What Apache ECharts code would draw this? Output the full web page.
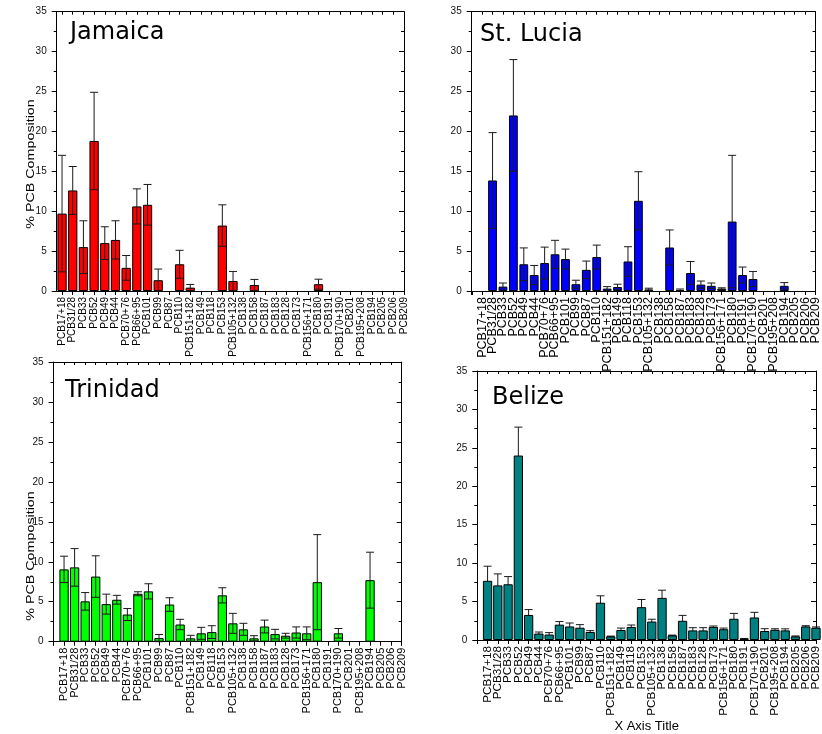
<!DOCTYPE html>
<html><head><meta charset="utf-8">
<script src="https://cdn.jsdelivr.net/npm/echarts@6/dist/echarts.min.js"></script>
<style>html,body{margin:0;padding:0;background:#fff}#c{width:822px;height:734px}</style>
</head><body><div id="c"></div>
<script>
const categories = ['PCB17+18','PCB31/28','PCB33','PCB52','PCB49','PCB44','PCB70+76','PCB66+95','PCB101','PCB99','PCB87','PCB110','PCB151+182','PCB149','PCB118','PCB153','PCB105+132','PCB138','PCB158','PCB187','PCB183','PCB128','PCB173','PCB156+171','PCB180','PCB191','PCB170+190','PCB201','PCB195+208','PCB194','PCB205','PCB206','PCB209'];
const panelTitles = ['Jamaica', 'St. Lucia', 'Trinidad', 'Belize'];
const yAxisTitle = '% PCB Composition';
const xAxisTitle = 'X Axis Title';
const yMin = 0, yMax = 35, yStep = 5;

const jamaicaValues = [9.7,12.6,5.5,18.8,6.0,6.4,2.9,10.6,10.8,1.35,0,3.35,0.42,0,0,8.2,1.25,0,0.75,0,0,0,0,0,0.85,0,0,0,0,0,0,0,0];
const jamaicaErrors = [7.3,3.0,3.3,6.1,2.05,2.4,1.55,2.2,2.55,1.4,0,1.75,0.4,0,0,2.6,1.2,0,0.7,0,0,0,0,0,0.63,0,0,0,0,0,0,0,0];

const stLuciaValues = [0,13.85,0.55,22.0,3.35,2.0,3.5,4.6,4.0,0.85,2.65,4.25,0.3,0.5,3.7,11.3,0.2,0,5.45,0.13,2.25,0.8,0.65,0.3,8.7,2.0,1.5,0,0,0.65,0,0,0];
const stLuciaErrors = [0,6.0,0.45,7.0,2.05,1.2,2.0,1.75,1.25,0.5,1.1,1.5,0.25,0.35,1.85,3.65,0.15,0,2.2,0.12,1.45,0.45,0.35,0.1,8.3,1.0,0.95,0,0,0.4,0,0,0];

const trinidadValues = [9.05,9.3,5.05,8.15,4.7,5.25,3.4,6.0,6.3,0.45,4.65,2.15,0.42,1.05,1.2,5.8,2.3,1.55,0.42,1.9,0.95,0.75,1.15,1.05,7.45,0,1.05,0,0,7.7,0,0,0];
const trinidadErrors = [1.65,2.35,1.1,2.6,1.25,0.55,0.75,0.25,0.95,0.45,0.85,0.65,0.38,0.75,0.8,0.95,1.25,0.75,0.33,0.8,0.6,0.3,0.7,0.8,5.95,0,0.6,0,0,3.5,0,0,0];

const belizeValues = [7.7,7.1,7.25,24.0,3.26,0.84,0.71,2.0,1.76,1.6,1.05,4.85,0.46,1.3,1.7,4.27,2.4,5.48,0.59,2.5,1.25,1.25,1.7,1.4,2.76,0.17,2.93,1.17,1.33,1.25,0.46,1.76,1.6];
const belizeErrors = [1.9,1.5,1.0,3.7,0.7,0.2,0.25,0.4,0.45,0.4,0.17,0.9,0.05,0.25,0.25,1.0,0.3,1.0,0.05,0.7,0.35,0.35,0.12,0.15,0.7,0.03,0.67,0.3,0.13,0.2,0.07,0.1,0.1];

const chart = echarts.init(document.getElementById('c'), null, {renderer: 'canvas'});

const panels = [
  {values: jamaicaValues, errors: jamaicaErrors, color: '#ff0000', grid: {left: 56.7, top: 11.7, width: 347.3, height: 279.3}, xMin: -0.5, xMax: 32, labelSize: 10, title: {left: 70, top: 21}, errUnder: false},
  {values: stLuciaValues, errors: stLuciaErrors, color: '#0000ff', grid: {left: 471.7, top: 11.7, width: 347.8, height: 279.3}, xMin: -1, xMax: 32, labelSize: 12.5, title: {left: 480, top: 22.5}, errUnder: false},
  {values: trinidadValues, errors: trinidadErrors, color: '#00ff00', grid: {left: 53.5, top: 362, width: 348.2, height: 279.7}, xMin: -1, xMax: 32, labelSize: 11, title: {left: 65, top: 378.5}, errUnder: false},
  {values: belizeValues, errors: belizeErrors, color: '#008080', grid: {left: 477.3, top: 371, width: 348.2, height: 279}, xMin: -1, xMax: 32, labelSize: 11.7, title: {left: 492, top: 385.5}, errUnder: true, xName: xAxisTitle}
];

const n = categories.length;
const idx = categories.map((c, i) => i);
// label positions: one per category; two blank helpers sit next to the end labels so
// ECharts' end-label overlap rule removes the blanks instead of real category names
const labelVals = [0, 0.02].concat(idx.slice(1, n - 1), [n - 1.02, n - 1]);
const labelFmt = v => (Number.isInteger(v) && v >= 0 && v < n) ? categories[v] : '';
const font = 'Liberation Sans, Arial, sans-serif';

const option = {
  animation: false,
  backgroundColor: '#fff',
  title: [], grid: [], xAxis: [], yAxis: [], series: [],
  graphic: [
    {type: 'text', x: 31, y: 164, rotation: Math.PI / 2, scaleX: 1.3, style: {text: yAxisTitle, font: '11px ' + font, fill: '#000', textAlign: 'center', textVerticalAlign: 'middle'}},
    {type: 'text', x: 31, y: 556, rotation: Math.PI / 2, scaleX: 1.3, style: {text: yAxisTitle, font: '11px ' + font, fill: '#000', textAlign: 'center', textVerticalAlign: 'middle'}}
  ]
};

function errRender(params, api) {
  const x = api.value(0), v = api.value(1), e = api.value(2);
  if (!(v > 0)) return null;
  const hi = api.coord([x, v + e]);
  const lo = api.coord([x, Math.max(v - e, 0)]);
  const hw = 4;
  const st = {stroke: '#1a1a1a', lineWidth: 1};
  return {type: 'group', children: [
    {type: 'line', shape: {x1: hi[0], y1: hi[1], x2: lo[0], y2: lo[1]}, style: st},
    {type: 'line', shape: {x1: hi[0] - hw, y1: hi[1], x2: hi[0] + hw, y2: hi[1]}, style: st},
    {type: 'line', shape: {x1: lo[0] - hw, y1: lo[1], x2: lo[0] + hw, y2: lo[1]}, style: st}
  ]};
}

panels.forEach((p, k) => {
  option.title.push({text: panelTitles[k], left: p.title.left, top: p.title.top, padding: 0,
    textStyle: {fontFamily: 'DejaVu Sans', fontSize: 24, fontWeight: 'normal', color: '#000'}});
  option.grid.push(Object.assign({containLabel: false}, p.grid));
  const tickVals = p.xMin === -1 ? [-1, -0.98].concat(idx.slice(0, n - 1), [n - 1.02, n - 1]) : labelVals;
  const bottom = {
    type: 'value', gridIndex: k, position: 'bottom', min: p.xMin, max: p.xMax,
    splitLine: {show: false},
    axisLine: {show: true, onZero: false, lineStyle: {color: '#000', width: 1}},
    axisTick: {show: true, inside: false, length: 4, lineStyle: {color: '#000'}, customValues: tickVals},
    axisLabel: {show: true, rotate: 90, margin: 6, fontSize: p.labelSize, fontFamily: font, color: '#000', formatter: labelFmt, hideOverlap: false, showMinLabel: true, showMaxLabel: true, customValues: labelVals}
  };
  if (p.xName) {
    bottom.name = p.xName; bottom.nameLocation = 'middle'; bottom.nameGap = 80;
    bottom.nameTextStyle = {fontFamily: font, fontSize: 13, color: '#000'};
  }
  const top = {
    type: 'value', gridIndex: k, position: 'top', min: p.xMin, max: p.xMax,
    splitLine: {show: false},
    axisLine: {show: true, onZero: false, lineStyle: {color: '#000', width: 1}},
    axisTick: {show: true, inside: true, length: 3, lineStyle: {color: '#000'}, customValues: p.xMin === -1 ? [-1].concat(idx) : idx},
    axisLabel: {show: false}
  };
  option.xAxis.push(bottom, top);
  option.yAxis.push({
    type: 'value', gridIndex: k, position: 'left', min: yMin, max: yMax, interval: yStep,
    splitLine: {show: false},
    axisLine: {show: true, onZero: false, lineStyle: {color: '#000', width: 1}},
    axisTick: {show: true, inside: false, length: 5, lineStyle: {color: '#000'}},
    minorTick: {show: true, splitNumber: 2, length: 3, lineStyle: {color: '#000'}},
    axisLabel: {show: true, margin: 10, fontSize: 10, fontFamily: font, color: '#111'}
  }, {
    type: 'value', gridIndex: k, position: 'right', min: yMin, max: yMax, interval: yStep,
    splitLine: {show: false},
    axisLine: {show: true, onZero: false, lineStyle: {color: '#000', width: 1}},
    axisTick: {show: true, inside: true, length: 5, lineStyle: {color: '#000'}},
    minorTick: {show: true, splitNumber: 2, length: 3, lineStyle: {color: '#000'}},
    axisLabel: {show: false}
  });
  option.series.push({
    type: 'bar', xAxisIndex: 2 * k, yAxisIndex: 2 * k, barWidth: k === 1 ? 8.8 : 9.3, z: 2,
    itemStyle: {color: p.color, borderColor: '#000', borderWidth: 1},
    data: p.values.map((v, i) => v > 0 ? [i, v] : [i, '-'])
  }, {
    type: 'custom', xAxisIndex: 2 * k, yAxisIndex: 2 * k, z: p.errUnder ? 1 : 3, clip: false,
    renderItem: errRender,
    data: p.values.map((v, i) => [i, v, p.errors[i]])
  });
});

chart.setOption(option);
</script></body></html>
